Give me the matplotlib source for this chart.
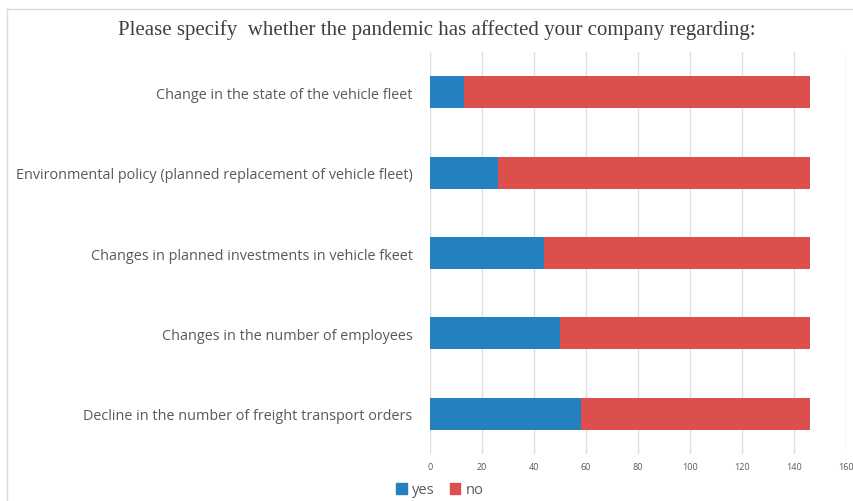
import matplotlib
matplotlib.use("Agg")
import matplotlib.pyplot as plt
from matplotlib.patches import Patch
from matplotlib.lines import Line2D

categories = [
    "Change in the state of the vehicle fleet",
    "Environmental policy (planned replacement of vehicle fleet)",
    "Changes in planned investments in vehicle fkeet",
    "Changes in the number of employees",
    "Decline in the number of freight transport orders",
]
yes_values = [13, 26, 44, 50, 58]
no_values = [133, 120, 102, 96, 88]
xticks = [0, 20, 40, 60, 80, 100, 120, 140, 160]
title = "Please specify  whether the pandemic has affected your company regarding:"

blue = "#2580C0"
red = "#DD4F4C"
txt = "#595959"

fig = plt.figure(figsize=(8.54, 5.02), dpi=100)
ax = fig.add_axes([430/854, 1-455/502, (846-430)/854, (455-53)/502])

y = list(range(len(categories)))
ax.barh(y, yes_values, height=0.4, color=blue, label="yes")
ax.barh(y, no_values, left=yes_values, height=0.4, color=red, label="no")
ax.set_ylim(len(categories) - 0.5, -0.5)
ax.set_xlim(0, 160)
ax.set_xticks(xticks)
ax.set_xticklabels([str(t) for t in xticks], fontsize=6.5, color=txt, family="Open Sans")
ax.set_yticks(y)
ax.set_yticklabels(categories, fontsize=10.35, color=txt, family="Open Sans")
ax.tick_params(axis="both", length=0)
ax.tick_params(axis="y", pad=12.5)
ax.tick_params(axis="x", pad=6)
ax.grid(axis="x", color="#DEDEDE", linewidth=1)
ax.set_axisbelow(True)
for s in ax.spines.values():
    s.set_visible(False)

fig.text(437/854, 1-30/502, title, ha="center", va="center", fontsize=15,
         family="Liberation Serif", color="#404040")

handles = [Patch(color=blue, label="yes"), Patch(color=red, label="no")]
fig.legend(handles=handles, loc="center", bbox_to_anchor=(440/854, 1-491/502), ncol=2,
           frameon=False, handlelength=0.7, handleheight=0.7,
           handletextpad=0.4, columnspacing=1.0, labelcolor=txt,
           prop={"family": "Open Sans", "size": 10.5})

# outer chart frame (top and left visible)
fig.add_artist(Line2D([7/854, 7/854], [0, 1-10/502], transform=fig.transFigure, color="#D9D9D9", lw=1))
fig.add_artist(Line2D([7/854, 1], [1-10/502, 1-10/502], transform=fig.transFigure, color="#D9D9D9", lw=1))

fig.savefig("out.png", dpi=100)
